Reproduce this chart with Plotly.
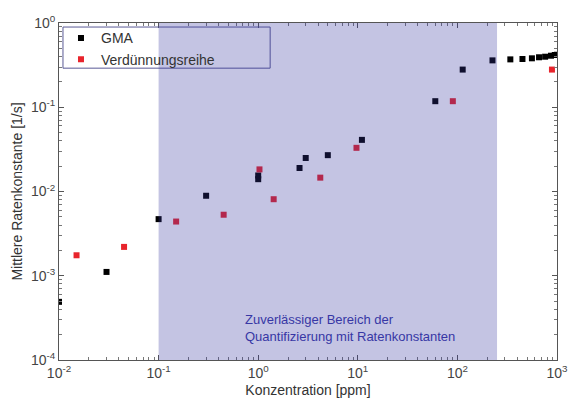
import plotly.graph_objects as go

# GMA measurements: concentration [ppm] and mean rate constant [1/s]
gma_conc = [0.01, 0.03, 0.1, 0.3, 1.0, 1.0, 2.6, 3.0, 5.0, 11.0, 60.0, 113.0, 225.0,
            340.0, 450.0, 560.0, 660.0, 760.0, 870.0, 950.0, 1000.0]
gma_rate = [4.9e-4, 1.11e-3, 4.7e-3, 8.9e-3, 0.0155, 0.0140, 0.019, 0.025, 0.027, 0.041,
            0.118, 0.28, 0.36, 0.37, 0.374, 0.381, 0.392, 0.398, 0.409, 0.417, 0.42]

# Dilution series
dil_conc = [0.015, 0.045, 0.15, 0.45, 1.03, 1.43, 4.2, 9.7, 90.0, 890.0]
dil_rate = [1.75e-3, 2.2e-3, 4.4e-3, 5.3e-3, 0.0183, 8.1e-3, 0.0146, 0.033, 0.118, 0.28]

# Reliable quantification range [ppm]
band_lo, band_hi = 0.1, 250.0

# Decade tick exponents
x_exps = [-2, -1, 0, 1, 2, 3]
y_exps = [-4, -3, -2, -1, 0]

font_family = "Liberation Sans, Arial, sans-serif"


def decade_ticks(exps):
    vals = [10.0 ** e for e in exps]
    text = [f"10<sup>{e}</sup>" for e in exps]
    minor = [m * 10.0 ** e for e in exps[:-1] for m in range(2, 10)]
    return vals, text, minor


fig = go.Figure()
fig.add_trace(go.Scatter(
    x=gma_conc, y=gma_rate, mode="markers", name="GMA",
    marker=dict(symbol="square", size=6, color="#000000", line=dict(width=0)),
))
fig.add_trace(go.Scatter(
    x=dil_conc, y=dil_rate, mode="markers", name="Verdünnungsreihe",
    marker=dict(symbol="square", size=6, color="#e8242c", line=dict(width=0)),
))

# legend frame
fig.add_shape(
    type="rect", xref="paper", yref="paper", x0=0.008, x1=0.424, y0=0.866, y1=0.988,
    line=dict(color="rgb(90,90,150)", width=1), fillcolor="rgba(0,0,0,0)", layer="above",
)

# translucent band over the reliable range
fig.add_shape(
    type="rect", xref="x", yref="paper", x0=band_lo, x1=band_hi, y0=0, y1=1,
    fillcolor="rgb(50,50,160)", opacity=0.29, line=dict(width=0), layer="above",
)

fig.add_annotation(
    xref="paper", yref="paper", x=0.369, y=0.095, xanchor="left", yanchor="middle",
    text="Zuverlässiger Bereich der<br>Quantifizierung mit Ratenkonstanten",
    showarrow=False, align="left",
    font=dict(family=font_family, size=13, color="rgb(55,55,165)"),
)


def axis_style(exps):
    vals, text, minor = decade_ticks(exps)
    return dict(
        type="log", showgrid=False, zeroline=False, showline=True, automargin=False,
        linecolor="#555555", linewidth=1, mirror="allticks",
        ticks="inside", ticklen=5, tickcolor="#555555",
        tickmode="array", tickvals=vals, ticktext=text,
        tickfont=dict(family=font_family, size=14, color="#444444"),
        minor=dict(ticks="inside", ticklen=3, tickcolor="#777777",
                   tickmode="array", tickvals=minor, showgrid=False),
    )


fig.update_xaxes(
    **axis_style(x_exps), range=[-2, 3],
    title=dict(text="Konzentration [ppm]", standoff=8,
               font=dict(family=font_family, size=14, color="#333333")),
)
fig.update_yaxes(
    **axis_style(y_exps), range=[-4, 0],
    title=dict(text="Mittlere Ratenkonstante [1/s]", standoff=5,
               font=dict(family=font_family, size=14, color="#333333")),
)

fig.update_layout(
    width=570, height=398,
    margin=dict(l=59, r=13, t=23, b=38),
    paper_bgcolor="white", plot_bgcolor="white",
    showlegend=True,
    legend=dict(
        x=0.004, y=1.002, xanchor="left", yanchor="top",
        bgcolor="rgba(255,255,255,0)", borderwidth=0,
        font=dict(family=font_family, size=14, color="#333333"),
        tracegroupgap=0,
    ),
)

fig.write_html("out.html")
